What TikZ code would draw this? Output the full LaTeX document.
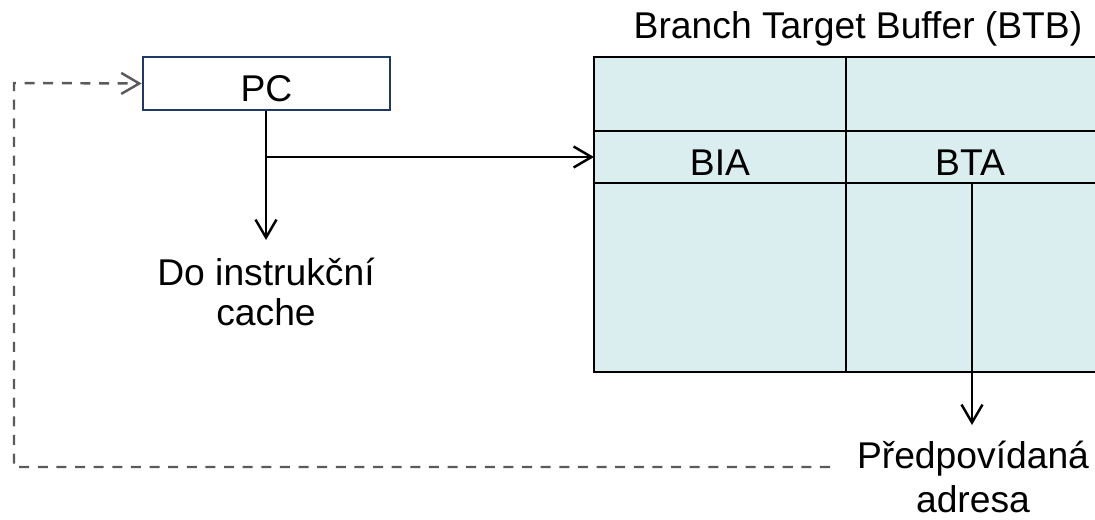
\documentclass[tikz,border=0pt]{standalone}
\usepackage{fontspec}
\setmainfont{Liberation Sans}
\usetikzlibrary{arrows.meta}
\definecolor{btbfill}{HTML}{DAEDEF}
\definecolor{pcblue}{HTML}{1F3868}
\definecolor{fbgray}{HTML}{5A5A5A}

\begin{document}
\begin{tikzpicture}[x=0.02cm,y=-0.02cm,>={Straight Barb[length=3.6mm,width=4.2mm]},
    every node/.style={font=\fontsize{21.2}{23}\selectfont},
    grid/.style={line width=1.5pt},
    wire/.style={line width=1.4pt,->},
    fb/.style={line width=1.4pt,->,dash pattern=on 5.7pt off 4.9pt,fbgray}]
      \useasboundingbox (0,0) rectangle (1095,520);
      % the BTB table
      \begin{scope}
        \clip (0,0) rectangle (1095,520);
        \draw[grid,fill=btbfill] (594,57) rectangle (1110,372);
        \draw[grid] (594,131) -- (1110,131);
        \draw[grid] (594,183) -- (1110,183);
        \draw[grid] (846,57) -- (846,372);
      \end{scope}
      \node[anchor=base] (btb) at (858,39) {Branch Target Buffer (BTB)};
      \node[anchor=base] (bia) at (720,176) {BIA};
      \node[anchor=base] (bta) at (970,176) {BTA};
      % PC and its two paths
      \node[draw=pcblue,grid,inner sep=0pt,text height=0.9cm,text depth=0.16cm,minimum width=247*0.02cm] (pc) at (266.5,83.5) {PC};
      \node[align=center,font=\fontsize{21.2}{22.7}\selectfont] (icache) at (266,292) {Do instrukční\\cache};
      \node[align=center,font=\fontsize{21.2}{25.5}\selectfont] (pred) at (973,477) {Předpovídaná\\adresa};
      \coordinate (split) at (266,157);
      \coordinate (btaout) at (972,183);
      \coordinate (fbstart) at (830,467);
      \draw[wire] (pc.south -| split) -- (266,240);
      \draw[wire] (split) -- (594,157);
      \draw[wire] (btaout) -- (972,425);
      \draw[fb] (fbstart) -- (14,467) -- (14,83) -- (pc.west);
    \end{tikzpicture}
\end{document}
